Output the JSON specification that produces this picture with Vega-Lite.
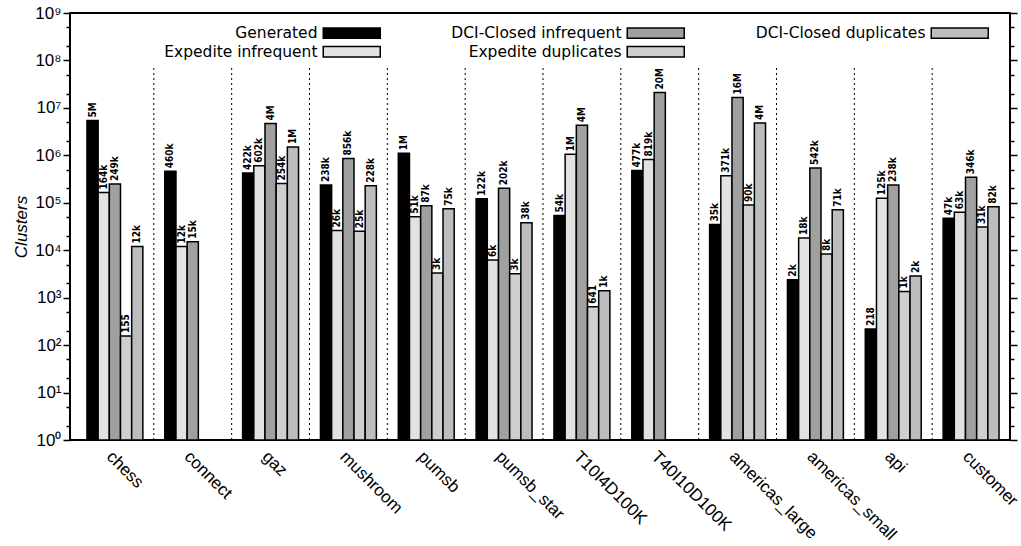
{
  "$schema": "https://vega.github.io/schema/vega-lite/v6.json",
  "width": 940,
  "height": 427,
  "autosize": "none",
  "padding": {"left": 70, "top": 13, "right": 11, "bottom": 106},
  "background": "white",
  "config": {
    "view": {"stroke": "black", "strokeWidth": 2},
    "axis": {"domain": false, "labelColor": "black", "titleColor": "black", "grid": false},
    "axisX": {"title": null, "labelAngle": 45, "labelAlign": "left", "labelBaseline": "top", "labelFont": "Liberation Sans", "labelFontSize": 17, "labelPadding": 8, "ticks": false, "domain": false}
  },
  "data": {
    "values": [
      {"c": "chess", "s": "Generated", "v": 5400000, "t": "5M"},
      {"c": "chess", "s": "Expedite infrequent", "v": 164000, "t": "164k"},
      {"c": "chess", "s": "DCI-Closed infrequent", "v": 249000, "t": "249k"},
      {"c": "chess", "s": "Expedite duplicates", "v": 155, "t": "155"},
      {"c": "chess", "s": "DCI-Closed duplicates", "v": 12000, "t": "12k"},
      {"c": "connect", "s": "Generated", "v": 460000, "t": "460k"},
      {"c": "connect", "s": "Expedite infrequent", "v": 12000, "t": "12k"},
      {"c": "connect", "s": "DCI-Closed infrequent", "v": 15000, "t": "15k"},
      {"c": "gaz", "s": "Generated", "v": 422000, "t": "422k"},
      {"c": "gaz", "s": "Expedite infrequent", "v": 602000, "t": "602k"},
      {"c": "gaz", "s": "DCI-Closed infrequent", "v": 4700000, "t": "4M"},
      {"c": "gaz", "s": "Expedite duplicates", "v": 254000, "t": "254k"},
      {"c": "gaz", "s": "DCI-Closed duplicates", "v": 1500000, "t": "1M"},
      {"c": "mushroom", "s": "Generated", "v": 238000, "t": "238k"},
      {"c": "mushroom", "s": "Expedite infrequent", "v": 26000, "t": "26k"},
      {"c": "mushroom", "s": "DCI-Closed infrequent", "v": 856000, "t": "856k"},
      {"c": "mushroom", "s": "Expedite duplicates", "v": 25000, "t": "25k"},
      {"c": "mushroom", "s": "DCI-Closed duplicates", "v": 228000, "t": "228k"},
      {"c": "pumsb", "s": "Generated", "v": 1100000, "t": "1M"},
      {"c": "pumsb", "s": "Expedite infrequent", "v": 51000, "t": "51k"},
      {"c": "pumsb", "s": "DCI-Closed infrequent", "v": 87000, "t": "87k"},
      {"c": "pumsb", "s": "Expedite duplicates", "v": 3300, "t": "3k"},
      {"c": "pumsb", "s": "DCI-Closed duplicates", "v": 75000, "t": "75k"},
      {"c": "pumsb_star", "s": "Generated", "v": 122000, "t": "122k"},
      {"c": "pumsb_star", "s": "Expedite infrequent", "v": 6200, "t": "6k"},
      {"c": "pumsb_star", "s": "DCI-Closed infrequent", "v": 202000, "t": "202k"},
      {"c": "pumsb_star", "s": "Expedite duplicates", "v": 3200, "t": "3k"},
      {"c": "pumsb_star", "s": "DCI-Closed duplicates", "v": 38000, "t": "38k"},
      {"c": "T10I4D100K", "s": "Generated", "v": 54000, "t": "54k"},
      {"c": "T10I4D100K", "s": "Expedite infrequent", "v": 1050000, "t": "1M"},
      {"c": "T10I4D100K", "s": "DCI-Closed infrequent", "v": 4300000, "t": "4M"},
      {"c": "T10I4D100K", "s": "Expedite duplicates", "v": 641, "t": "641"},
      {"c": "T10I4D100K", "s": "DCI-Closed duplicates", "v": 1400, "t": "1k"},
      {"c": "T40I10D100K", "s": "Generated", "v": 477000, "t": "477k"},
      {"c": "T40I10D100K", "s": "Expedite infrequent", "v": 819000, "t": "819k"},
      {"c": "T40I10D100K", "s": "DCI-Closed infrequent", "v": 21000000, "t": "20M"},
      {"c": "americas_large", "s": "Generated", "v": 35000, "t": "35k"},
      {"c": "americas_large", "s": "Expedite infrequent", "v": 371000, "t": "371k"},
      {"c": "americas_large", "s": "DCI-Closed infrequent", "v": 16500000, "t": "16M"},
      {"c": "americas_large", "s": "Expedite duplicates", "v": 90000, "t": "90k"},
      {"c": "americas_large", "s": "DCI-Closed duplicates", "v": 4800000, "t": "4M"},
      {"c": "americas_small", "s": "Generated", "v": 2400, "t": "2k"},
      {"c": "americas_small", "s": "Expedite infrequent", "v": 18000, "t": "18k"},
      {"c": "americas_small", "s": "DCI-Closed infrequent", "v": 542000, "t": "542k"},
      {"c": "americas_small", "s": "Expedite duplicates", "v": 8300, "t": "8k"},
      {"c": "americas_small", "s": "DCI-Closed duplicates", "v": 71000, "t": "71k"},
      {"c": "api", "s": "Generated", "v": 218, "t": "218"},
      {"c": "api", "s": "Expedite infrequent", "v": 125000, "t": "125k"},
      {"c": "api", "s": "DCI-Closed infrequent", "v": 238000, "t": "238k"},
      {"c": "api", "s": "Expedite duplicates", "v": 1350, "t": "1k"},
      {"c": "api", "s": "DCI-Closed duplicates", "v": 2850, "t": "2k"},
      {"c": "customer", "s": "Generated", "v": 47000, "t": "47k"},
      {"c": "customer", "s": "Expedite infrequent", "v": 63000, "t": "63k"},
      {"c": "customer", "s": "DCI-Closed infrequent", "v": 346000, "t": "346k"},
      {"c": "customer", "s": "Expedite duplicates", "v": 31000, "t": "31k"},
      {"c": "customer", "s": "DCI-Closed duplicates", "v": 82000, "t": "82k"}
    ]
  },
  "resolve": {"axis": {"y": "independent"}},
  "layer": [
    {
      "transform": [{"filter": "datum.s === 'Generated' && datum.c !== 'chess'"}],
      "mark": {"type": "rule", "stroke": "black", "strokeWidth": 1, "strokeDash": [2, 3]},
      "encoding": {
        "x": {"field": "c", "type": "nominal", "bandPosition": 0,
          "scale": {"domain": ["chess", "connect", "gaz", "mushroom", "pumsb", "pumsb_star", "T10I4D100K", "T40I10D100K", "americas_large", "americas_small", "api", "customer"], "paddingInner": 0, "paddingOuter": 0.0385, "align": 1}},
        "y": {"datum": 1, "type": "quantitative", "scale": {"type": "log", "domain": [1, 1000000000]},
          "axis": {"orient": "right", "title": null, "labels": false, "domain": false, "labelOverlap": false, "ticks": true, "tickColor": "#000000", "tickOpacity": 1, "tickWidth": 1.5,
            "values": [1, 2, 5, 10, 20, 50, 100, 200, 500, 1000, 2000, 5000, 10000, 20000, 50000, 100000, 200000, 500000, 1000000, 2000000, 5000000, 10000000, 20000000, 50000000, 100000000, 200000000, 500000000, 1000000000],
            "tickSize": {"condition": {"test": "abs(log(datum.value)/LN10 - round(log(datum.value)/LN10)) < 0.000001", "value": 7}, "value": 4}}},
        "y2": {"datum": 70000000}
      }
    },
    {
      "mark": {"type": "bar", "stroke": "black", "strokeWidth": 1.5},
      "encoding": {
        "x": {"field": "c", "type": "nominal",
          "scale": {"domain": ["chess", "connect", "gaz", "mushroom", "pumsb", "pumsb_star", "T10I4D100K", "T40I10D100K", "americas_large", "americas_small", "api", "customer"], "paddingInner": 0, "paddingOuter": 0.0385, "align": 1}},
        "xOffset": {"field": "s", "type": "nominal",
          "scale": {"domain": ["Generated", "Expedite infrequent", "DCI-Closed infrequent", "Expedite duplicates", "DCI-Closed duplicates"], "paddingInner": 0, "paddingOuter": 0.98}},
        "y": {"field": "v", "type": "quantitative", "stack": null, "scale": {"type": "log", "domain": [1, 1000000000]},
          "axis": {"orient": "left", "ticks": true, "tickColor": "#000000", "tickOpacity": 1, "tickWidth": 1.5, "title": "Clusters", "titleFont": "Liberation Sans", "titleFontStyle": "italic", "titleFontWeight": "normal", "titleFontSize": 17, "titleX": -40, "titleY": 213.5,
            "labelFont": "Liberation Sans", "labelFontSize": 17, "labelPadding": 2, "labelOverlap": false, "labelFlush": false, "domain": false,
            "values": [1, 2, 5, 10, 20, 50, 100, 200, 500, 1000, 2000, 5000, 10000, 20000, 50000, 100000, 200000, 500000, 1000000, 2000000, 5000000, 10000000, 20000000, 50000000, 100000000, 200000000, 500000000, 1000000000],
            "tickSize": {"condition": {"test": "abs(log(datum.value)/LN10 - round(log(datum.value)/LN10)) < 0.000001", "value": 7}, "value": 4},
            "labelExpr": "abs(log(datum.value)/LN10 - round(log(datum.value)/LN10)) < 0.000001 ? '10' + substring('⁰¹²³⁴⁵⁶⁷⁸⁹', round(log(datum.value)/LN10), round(log(datum.value)/LN10) + 1) : ''"}},
        "color": {"field": "s", "type": "nominal",
          "scale": {"domain": ["Generated", "DCI-Closed infrequent", "DCI-Closed duplicates", "Expedite infrequent", "Expedite duplicates"], "range": ["#000000", "#a0a0a0", "#bdbdbd", "#e2e2e2", "#cfcfcf"]},
          "legend": {"orient": "none", "legendX": 274, "legendY": 12, "direction": "horizontal", "columns": 3, "title": null,
            "symbolType": "M-5,-0.9H5V0.9H-5Z", "symbolSize": 130, "symbolStrokeColor": "black", "symbolStrokeWidth": 1.5, "symbolOpacity": 1,
            "labelAlign": "right", "labelOffset": -42, "labelFont": "DejaVu Sans", "labelFontSize": 15.5, "labelColor": "black", "labelLimit": 400,
            "columnPadding": 67, "rowPadding": 1, "padding": 0}}
      }
    },
    {
      "mark": {"type": "text", "angle": 270, "align": "left", "baseline": "middle", "dx": 3, "font": "Liberation Sans Narrow, DejaVu Sans Condensed, sans-serif", "fontSize": 10, "fontWeight": "bold", "color": "black"},
      "encoding": {
        "x": {"field": "c", "type": "nominal",
          "scale": {"domain": ["chess", "connect", "gaz", "mushroom", "pumsb", "pumsb_star", "T10I4D100K", "T40I10D100K", "americas_large", "americas_small", "api", "customer"], "paddingInner": 0, "paddingOuter": 0.0385, "align": 1}},
        "xOffset": {"field": "s", "type": "nominal",
          "scale": {"domain": ["Generated", "Expedite infrequent", "DCI-Closed infrequent", "Expedite duplicates", "DCI-Closed duplicates"], "paddingInner": 0, "paddingOuter": 0.98}},
        "y": {"field": "v", "type": "quantitative", "stack": null, "scale": {"type": "log", "domain": [1, 1000000000]}, "axis": null},
        "text": {"field": "t"}
      }
    }
  ]
}
